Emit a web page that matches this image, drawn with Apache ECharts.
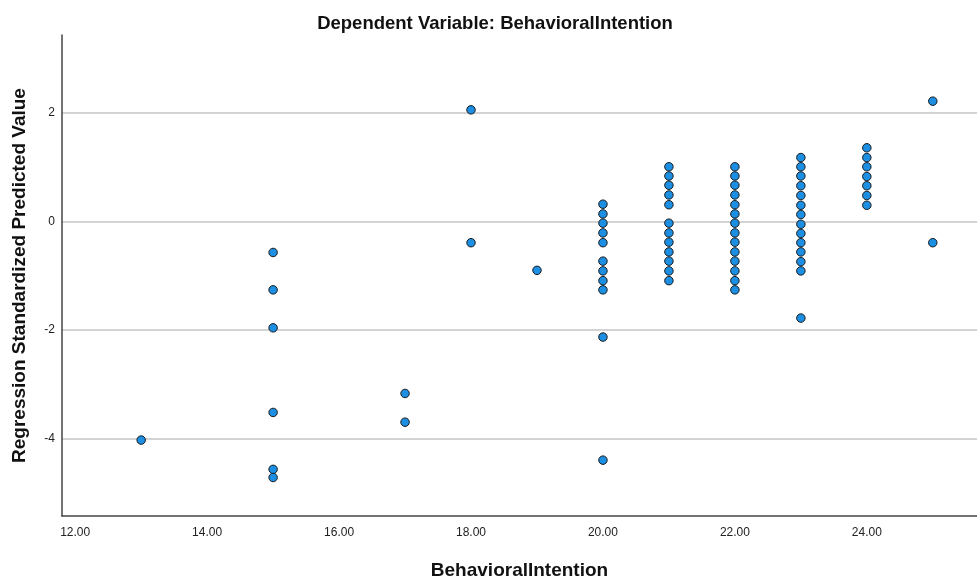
<!DOCTYPE html>
<html>
<head>
<meta charset="utf-8">
<script src="https://cdn.jsdelivr.net/npm/echarts@6/dist/echarts.min.js"></script>
<style>
html,body{margin:0;padding:0;background:#fff;}
#chart{width:977px;height:582px;}
</style>
</head>
<body>
<div id="chart"></div>
<script>
// Observed BehavioralIntention values (x) and predicted standardized values (y) per column
const x13 = [-4.03];
const x15 = [-0.57, -1.26, -1.96, -3.52, -4.57, -4.72];
const x17 = [-3.17, -3.70];
const x18 = [2.06, -0.39];
const x19 = [-0.90];
const x20 = [0.32, 0.14, -0.03, -0.21, -0.39, -0.73, -0.91, -1.09, -1.26, -2.13, -4.40];
const x21 = [1.01, 0.84, 0.67, 0.49, 0.31, -0.03, -0.21, -0.38, -0.56, -0.73, -0.91, -1.09];
const x22 = [1.01, 0.84, 0.67, 0.49, 0.31, 0.14, -0.03, -0.21, -0.38, -0.56, -0.73, -0.91, -1.09, -1.26];
const x23 = [1.18, 1.01, 0.84, 0.66, 0.48, 0.30, 0.13, -0.05, -0.22, -0.39, -0.56, -0.74, -0.91, -1.78];
const x24 = [1.36, 1.18, 1.01, 0.83, 0.66, 0.48, 0.30];
const x25 = [2.22, -0.39];

const xTicks = [12, 14, 16, 18, 20, 22, 24];
const yTicks = [-4, -2, 0, 2];

const columns = [[13, x13], [15, x15], [17, x17], [18, x18], [19, x19], [20, x20],
                 [21, x21], [22, x22], [23, x23], [24, x24], [25, x25]];
const points = [];
columns.forEach(([x, ys]) => ys.forEach(y => points.push([x, y])));

const font = '"Liberation Sans", Arial, sans-serif';
const chart = echarts.init(document.getElementById('chart'), null, {renderer: 'canvas'});
chart.setOption({
  animation: false,
  backgroundColor: '#ffffff',
  title: {
    text: 'Dependent Variable: BehavioralIntention',
    left: 490,
    textAlign: 'center',
    top: 9,
    textStyle: {fontFamily: font, fontSize: 18.5, fontWeight: 'bold', color: '#111'}
  },
  grid: {left: 62, right: 0, top: 35, bottom: 66, containLabel: false, outerBoundsMode: 'none'},
  xAxis: {
    type: 'value',
    min: 11.8,
    max: 25.67,
    name: 'BehavioralIntention',
    nameLocation: 'middle',
    nameGap: 45,
    nameTextStyle: {fontFamily: font, fontSize: 19, fontWeight: 'bold', color: '#111'},
    axisLine: {show: true, onZero: false, lineStyle: {color: '#444', width: 1.5}},
    axisTick: {show: false, customValues: xTicks},
    axisLabel: {customValues: xTicks, margin: 11, fontFamily: font, fontSize: 12, color: '#222',
                formatter: v => v.toFixed(2)},
    splitLine: {show: false}
  },
  yAxis: {
    type: 'value',
    min: -5.43,
    max: 3.44,
    name: 'Regression Standardized Predicted Value',
    nameLocation: 'middle',
    nameGap: 33,
    nameTextStyle: {fontFamily: font, fontSize: 19, fontWeight: 'bold', color: '#111'},
    axisLine: {show: true, onZero: false, lineStyle: {color: '#444', width: 1.5}},
    axisTick: {show: false, customValues: yTicks},
    axisLabel: {customValues: yTicks, margin: 7, fontFamily: font, fontSize: 12, color: '#222'},
    splitLine: {show: true, lineStyle: {color: '#c4c4c4', width: 1.5}}
  },
  series: [{
    type: 'scatter',
    data: points,
    symbol: 'circle',
    symbolSize: 8.5,
    itemStyle: {color: '#1c8fe3', borderColor: '#1a1a1a', borderWidth: 1, opacity: 1}
  }]
});
</script>
</body>
</html>
